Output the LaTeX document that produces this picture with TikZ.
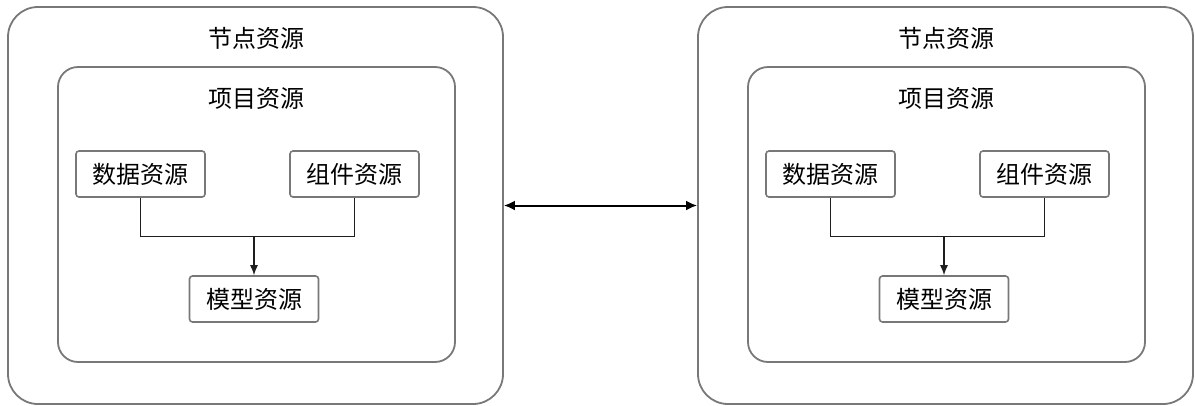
\documentclass[tikz,border=0pt]{standalone}
\usepackage{fontspec}
\setmainfont{Noto Sans CJK SC}
\usetikzlibrary{arrows.meta,calc}

\begin{document}
\begin{tikzpicture}[
  x=1pt, y=-1pt,
  node box/.style={
      draw={rgb,255:red,120;green,120;blue,120},
      line width=1.8pt,
      rounded corners=30pt,
      minimum width=495pt,
      minimum height=397pt,
      inner sep=0pt
    },
  proj box/.style={
      draw={rgb,255:red,120;green,120;blue,120},
      line width=1.8pt,
      rounded corners=20pt,
      minimum width=397pt,
      minimum height=295pt,
      inner sep=0pt
    },
  res/.style={
      draw={rgb,255:red,120;green,120;blue,120},
      line width=1.6pt,
      rounded corners=3pt,
      minimum width=129pt,
      minimum height=46pt,
      inner sep=0pt,
      font=\fontsize{24pt}{28pt}\selectfont
    },
  title/.style={
      inner sep=0pt,
      font=\fontsize{24pt}{28pt}\selectfont
    },
  link/.style={
      line width=1.3pt,
      draw={rgb,255:red,30;green,30;blue,30}
    },
  dep arrow/.style={
      arrows = {-Latex[length=10pt,width=8pt]},
      line width=1.3pt
    }]
  \useasboundingbox (0,0) rectangle (1195,405);

  \begin{scope}
    \node [node box] (nodeA) at (255.5,205.5) {};
    \node [title] (nodeA-t) at (256,38) {节点资源};
    \node [proj box] (projA) at (256.5,214.5) {};
    \node [title] (projA-t) at (256,98) {项目资源};

    \node [res] (dataA) at (140.5,174) {数据资源};
    \node [res] (compA) at (354.5,174) {组件资源};
    \node [res] (modelA) at (254,299) {模型资源};
    \coordinate (jA) at ($(modelA.north) + (0,-39)$);

    \draw [link] (dataA.south) |- (jA) -| (compA.south);
    \draw [link, dep arrow] (jA) -- (modelA.north);
  \end{scope}

  \begin{scope}[xshift=690pt]
    \node [node box] (nodeB) at (255.5,205.5) {};
    \node [title] (nodeB-t) at (256,38) {节点资源};
    \node [proj box] (projB) at (256.5,214.5) {};
    \node [title] (projB-t) at (256,98) {项目资源};

    \node [res] (dataB) at (140.5,174) {数据资源};
    \node [res] (compB) at (354.5,174) {组件资源};
    \node [res] (modelB) at (254,299) {模型资源};
    \coordinate (jB) at ($(modelB.north) + (0,-39)$);

    \draw [link] (dataB.south) |- (jB) -| (compB.south);
    \draw [link, dep arrow] (jB) -- (modelB.north);
  \end{scope}

  \draw [line width=2pt, arrows = {Latex[length=11pt,width=10pt]-Latex[length=11pt,width=10pt]}] (nodeA.east) -- (nodeB.west);
\end{tikzpicture}
\end{document}
